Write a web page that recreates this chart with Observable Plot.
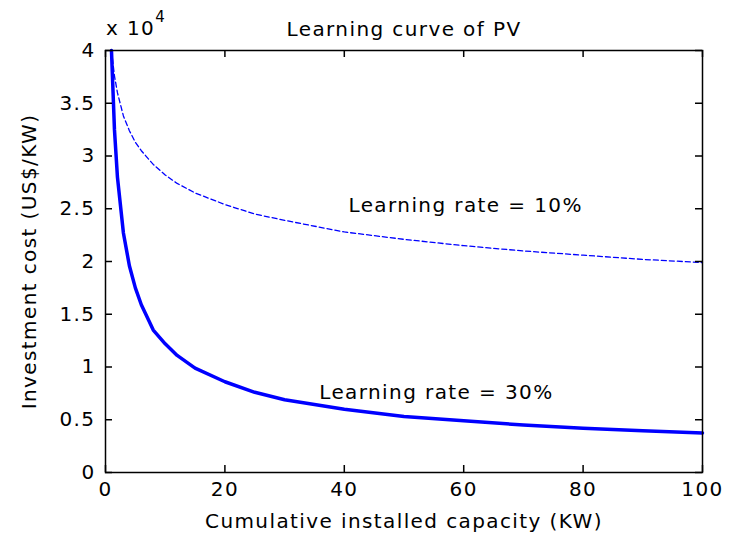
<!DOCTYPE html>
<html>
<head>
<meta charset="utf-8">
<script src="https://cdn.jsdelivr.net/npm/d3@7"></script>
<script src="https://cdn.jsdelivr.net/npm/@observablehq/plot@0.6"></script>
<style>
  html, body { margin: 0; padding: 0; background: #fff; }
  #chart { position: relative; width: 733px; height: 535px; }
  svg text { font-family: "DejaVu Sans", sans-serif; letter-spacing: 1.4px; }
</style>
</head>
<body>
<div id="chart"></div>
<script>
// Cumulative installed capacity (KW)
const capacity = [1, 1.5, 2, 3, 4, 5, 6, 8, 10, 12, 15, 20, 25, 30, 40, 50, 60, 70, 80, 90, 100];
// Investment cost (US$/KW), learning rate 30% (solid)
const cost30 = [40000, 32500, 28000, 22700, 19600, 17500, 15900, 13500, 12200, 11100, 9900, 8600, 7600, 6900, 6000, 5300, 4900, 4500, 4200, 3950, 3750];
// Investment cost (US$/KW), learning rate 10% (dashed)
const cost10 = [40000, 37600, 36000, 33800, 32400, 31300, 30500, 29200, 28200, 27400, 26500, 25400, 24500, 23900, 22800, 22100, 21500, 21000, 20600, 20200, 19900];
const xTicks = [0, 20, 40, 60, 80, 100];
const yTicks = [0, 5000, 10000, 15000, 20000, 25000, 30000, 35000, 40000];
const titleText = "Learning curve of PV";
const xLabel = "Cumulative installed capacity (KW)";
const yLabel = "Investment cost (US$/KW)";
const annotations = [
  {x: 40.7, y: 25300, text: "Learning rate = 10%"},
  {x: 35.8, y: 7600, text: "Learning rate = 30%"}
];

const s30 = capacity.map((c, i) => ({x: c, y: cost30[i]}));
const s10 = capacity.map((c, i) => ({x: c, y: cost10[i]}));

const W = 733, H = 535;
const mL = 105, mR = 31, mT = 50, mB = 63;
const frameH = H - mT - mB, frameW = W - mL - mR;
const tickLen = 7;
const fs = 20;

const plot = Plot.plot({
  width: W,
  height: H,
  marginLeft: mL,
  marginRight: mR,
  marginTop: mT,
  marginBottom: mB,
  style: {fontFamily: "DejaVu Sans, sans-serif", fontSize: fs + "px", color: "#000", background: "#fff"},
  x: {domain: [0, 100]},
  y: {domain: [0, 40000]},
  marks: [
    Plot.line(s10, {x: "x", y: "y", stroke: "#0000ff", strokeWidth: 1.3, strokeDasharray: "5,3"}),
    Plot.line(s30, {x: "x", y: "y", stroke: "#0000ff", strokeWidth: 3.5}),
    // inward ticks
    Plot.tickX(xTicks, {x: d => d, insetTop: frameH - tickLen, stroke: "#000", strokeWidth: 1.5}),
    Plot.tickX(xTicks, {x: d => d, insetBottom: frameH - tickLen, stroke: "#000", strokeWidth: 1.5}),
    Plot.tickY(yTicks, {y: d => d, insetRight: frameW - tickLen, stroke: "#000", strokeWidth: 1.5}),
    Plot.tickY(yTicks, {y: d => d, insetLeft: frameW - tickLen, stroke: "#000", strokeWidth: 1.5}),
    Plot.frame({stroke: "#000", strokeWidth: 1.5}),
    Plot.axisX({ticks: xTicks, tickSize: 0, tickPadding: 9, fontSize: fs, label: xLabel, labelAnchor: "center", labelOffset: 55, labelArrow: "none"}),
    Plot.axisY({ticks: yTicks, tickSize: 0, tickPadding: 10, fontSize: fs, tickFormat: d => d / 10000, label: yLabel, labelAnchor: "center", labelOffset: 84, labelArrow: "none"}),
    Plot.text(annotations, {x: "x", y: "y", text: "text", textAnchor: "start", fontSize: fs, fill: "#000"}),
    Plot.text([titleText], {frameAnchor: "top", dy: -29, fontSize: fs, fill: "#000"})
  ]
});

const chart = document.getElementById("chart");
chart.appendChild(plot);

// "x 10^4" exponent label at top-left of the axes
const svg = d3.select(plot);
const expText = svg.append("text")
  .attr("x", mL + 1)
  .attr("y", mT - 15)
  .attr("text-anchor", "start")
  .attr("font-size", fs)
  .attr("fill", "#000");
expText.append("tspan").text("x 10");
expText.append("tspan").attr("dy", -13).attr("font-size", 15).text("4");
</script>
</body>
</html>
